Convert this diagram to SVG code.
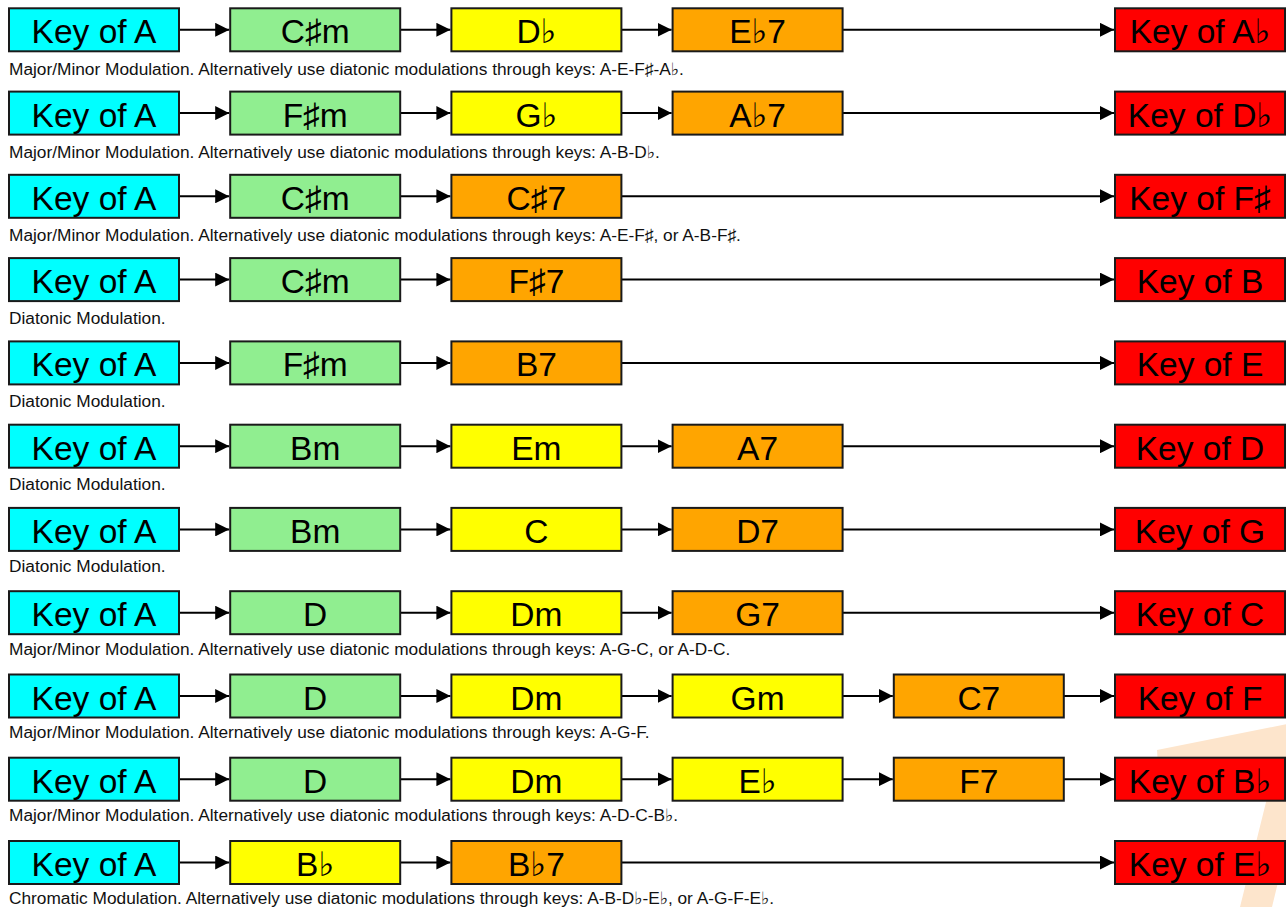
<svg xmlns="http://www.w3.org/2000/svg" width="1286" height="907" viewBox="0 0 1286 907">
<style>
.box{stroke:#1a1a1a;stroke-width:2}
.key{fill:#00ffff}.min{fill:#90ee90}.yel{fill:#ffff00}.dom{fill:#ffa500}.tgt{fill:#ff0000}
.lbl{font-family:"Liberation Sans",Arial,"DejaVu Sans",sans-serif;font-size:33.5px;text-anchor:middle;fill:#000}
.cap{font-family:"Liberation Sans",Arial,"DejaVu Sans",sans-serif;font-size:17.3px;fill:#111}
.con line{stroke:#000;stroke-width:2;marker-end:url(#ah)}
</style>
<defs>
<marker id="ah" markerUnits="userSpaceOnUse" markerWidth="14" markerHeight="14" refX="14" refY="7" orient="auto" viewBox="0 0 14 14"><path d="M0,0 L14,7 L0,14 Z" fill="#000"/></marker>
</defs>
<rect width="1286" height="907" fill="#fff"/>
<polygon id="watermark" points="1157,750 1292,723 1298,800 1272,907 1240,907 1272,778 1160,795" fill="#fde5cc"/>

<g id="connectors" class="con">
<line x1="179" y1="29.8" x2="229.2" y2="29.8"/><line x1="400.2" y1="29.8" x2="450.4" y2="29.8"/><line x1="621.4" y1="29.8" x2="671.6" y2="29.8"/><line x1="842.6" y1="29.8" x2="1114" y2="29.8"/>
<line x1="179" y1="113.1" x2="229.2" y2="113.1"/><line x1="400.2" y1="113.1" x2="450.4" y2="113.1"/><line x1="621.4" y1="113.1" x2="671.6" y2="113.1"/><line x1="842.6" y1="113.1" x2="1114" y2="113.1"/>
<line x1="179" y1="196.3" x2="229.2" y2="196.3"/><line x1="400.2" y1="196.3" x2="450.4" y2="196.3"/><line x1="621.4" y1="196.3" x2="1114" y2="196.3"/>
<line x1="179" y1="279.6" x2="229.2" y2="279.6"/><line x1="400.2" y1="279.6" x2="450.4" y2="279.6"/><line x1="621.4" y1="279.6" x2="1114" y2="279.6"/>
<line x1="179" y1="362.9" x2="229.2" y2="362.9"/><line x1="400.2" y1="362.9" x2="450.4" y2="362.9"/><line x1="621.4" y1="362.9" x2="1114" y2="362.9"/>
<line x1="179" y1="446.2" x2="229.2" y2="446.2"/><line x1="400.2" y1="446.2" x2="450.4" y2="446.2"/><line x1="621.4" y1="446.2" x2="671.6" y2="446.2"/><line x1="842.6" y1="446.2" x2="1114" y2="446.2"/>
<line x1="179" y1="529.4" x2="229.2" y2="529.4"/><line x1="400.2" y1="529.4" x2="450.4" y2="529.4"/><line x1="621.4" y1="529.4" x2="671.6" y2="529.4"/><line x1="842.6" y1="529.4" x2="1114" y2="529.4"/>
<line x1="179" y1="612.7" x2="229.2" y2="612.7"/><line x1="400.2" y1="612.7" x2="450.4" y2="612.7"/><line x1="621.4" y1="612.7" x2="671.6" y2="612.7"/><line x1="842.6" y1="612.7" x2="1114" y2="612.7"/>
<line x1="179" y1="696" x2="229.2" y2="696"/><line x1="400.2" y1="696" x2="450.4" y2="696"/><line x1="621.4" y1="696" x2="671.6" y2="696"/><line x1="842.6" y1="696" x2="892.8" y2="696"/><line x1="1063.8" y1="696" x2="1114" y2="696"/>
<line x1="179" y1="779.2" x2="229.2" y2="779.2"/><line x1="400.2" y1="779.2" x2="450.4" y2="779.2"/><line x1="621.4" y1="779.2" x2="671.6" y2="779.2"/><line x1="842.6" y1="779.2" x2="892.8" y2="779.2"/><line x1="1063.8" y1="779.2" x2="1114" y2="779.2"/>
<line x1="179" y1="862.5" x2="229.2" y2="862.5"/><line x1="400.2" y1="862.5" x2="450.4" y2="862.5"/><line x1="621.4" y1="862.5" x2="1114" y2="862.5"/>
</g>

<g id="r1-a"><rect class="box key" x="9" y="8.3" width="170" height="43"/><text class="lbl" x="94" y="43.3">Key of A</text></g>
<g id="r1-b"><rect class="box min" x="230.2" y="8.3" width="170" height="43"/><text class="lbl" x="315.2" y="43.3">C♯m</text></g>
<g id="r1-c"><rect class="box yel" x="451.4" y="8.3" width="170" height="43"/><text class="lbl" x="536.4" y="43.3">D♭</text></g>
<g id="r1-d"><rect class="box dom" x="672.6" y="8.3" width="170" height="43"/><text class="lbl" x="757.6" y="43.3">E♭7</text></g>
<g id="r1-t"><rect class="box tgt" x="1115" y="8.3" width="170" height="43"/><text class="lbl" x="1200" y="43.3">Key of A♭</text></g>
<text class="cap" x="9" y="75">Major/Minor Modulation. Alternatively use diatonic modulations through keys: A-E-F♯-A♭.</text>

<g id="r2-a"><rect class="box key" x="9" y="91.6" width="170" height="43"/><text class="lbl" x="94" y="126.6">Key of A</text></g>
<g id="r2-b"><rect class="box min" x="230.2" y="91.6" width="170" height="43"/><text class="lbl" x="315.2" y="126.6">F♯m</text></g>
<g id="r2-c"><rect class="box yel" x="451.4" y="91.6" width="170" height="43"/><text class="lbl" x="536.4" y="126.6">G♭</text></g>
<g id="r2-d"><rect class="box dom" x="672.6" y="91.6" width="170" height="43"/><text class="lbl" x="757.6" y="126.6">A♭7</text></g>
<g id="r2-t"><rect class="box tgt" x="1115" y="91.6" width="170" height="43"/><text class="lbl" x="1200" y="126.6">Key of D♭</text></g>
<text class="cap" x="9" y="157.9">Major/Minor Modulation. Alternatively use diatonic modulations through keys: A-B-D♭.</text>

<g id="r3-a"><rect class="box key" x="9" y="174.8" width="170" height="43"/><text class="lbl" x="94" y="209.8">Key of A</text></g>
<g id="r3-b"><rect class="box min" x="230.2" y="174.8" width="170" height="43"/><text class="lbl" x="315.2" y="209.8">C♯m</text></g>
<g id="r3-c"><rect class="box dom" x="451.4" y="174.8" width="170" height="43"/><text class="lbl" x="536.4" y="209.8">C♯7</text></g>
<g id="r3-t"><rect class="box tgt" x="1115" y="174.8" width="170" height="43"/><text class="lbl" x="1200" y="209.8">Key of F♯</text></g>
<text class="cap" x="9" y="240.8">Major/Minor Modulation. Alternatively use diatonic modulations through keys: A-E-F♯, or A-B-F♯.</text>

<g id="r4-a"><rect class="box key" x="9" y="258.1" width="170" height="43"/><text class="lbl" x="94" y="293.1">Key of A</text></g>
<g id="r4-b"><rect class="box min" x="230.2" y="258.1" width="170" height="43"/><text class="lbl" x="315.2" y="293.1">C♯m</text></g>
<g id="r4-c"><rect class="box dom" x="451.4" y="258.1" width="170" height="43"/><text class="lbl" x="536.4" y="293.1">F♯7</text></g>
<g id="r4-t"><rect class="box tgt" x="1115" y="258.1" width="170" height="43"/><text class="lbl" x="1200" y="293.1">Key of B</text></g>
<text class="cap" x="9" y="323.7">Diatonic Modulation.</text>

<g id="r5-a"><rect class="box key" x="9" y="341.4" width="170" height="43"/><text class="lbl" x="94" y="376.4">Key of A</text></g>
<g id="r5-b"><rect class="box min" x="230.2" y="341.4" width="170" height="43"/><text class="lbl" x="315.2" y="376.4">F♯m</text></g>
<g id="r5-c"><rect class="box dom" x="451.4" y="341.4" width="170" height="43"/><text class="lbl" x="536.4" y="376.4">B7</text></g>
<g id="r5-t"><rect class="box tgt" x="1115" y="341.4" width="170" height="43"/><text class="lbl" x="1200" y="376.4">Key of E</text></g>
<text class="cap" x="9" y="406.6">Diatonic Modulation.</text>

<g id="r6-a"><rect class="box key" x="9" y="424.7" width="170" height="43"/><text class="lbl" x="94" y="459.7">Key of A</text></g>
<g id="r6-b"><rect class="box min" x="230.2" y="424.7" width="170" height="43"/><text class="lbl" x="315.2" y="459.7">Bm</text></g>
<g id="r6-c"><rect class="box yel" x="451.4" y="424.7" width="170" height="43"/><text class="lbl" x="536.4" y="459.7">Em</text></g>
<g id="r6-d"><rect class="box dom" x="672.6" y="424.7" width="170" height="43"/><text class="lbl" x="757.6" y="459.7">A7</text></g>
<g id="r6-t"><rect class="box tgt" x="1115" y="424.7" width="170" height="43"/><text class="lbl" x="1200" y="459.7">Key of D</text></g>
<text class="cap" x="9" y="489.5">Diatonic Modulation.</text>

<g id="r7-a"><rect class="box key" x="9" y="507.9" width="170" height="43"/><text class="lbl" x="94" y="542.9">Key of A</text></g>
<g id="r7-b"><rect class="box min" x="230.2" y="507.9" width="170" height="43"/><text class="lbl" x="315.2" y="542.9">Bm</text></g>
<g id="r7-c"><rect class="box yel" x="451.4" y="507.9" width="170" height="43"/><text class="lbl" x="536.4" y="542.9">C</text></g>
<g id="r7-d"><rect class="box dom" x="672.6" y="507.9" width="170" height="43"/><text class="lbl" x="757.6" y="542.9">D7</text></g>
<g id="r7-t"><rect class="box tgt" x="1115" y="507.9" width="170" height="43"/><text class="lbl" x="1200" y="542.9">Key of G</text></g>
<text class="cap" x="9" y="572.4">Diatonic Modulation.</text>

<g id="r8-a"><rect class="box key" x="9" y="591.2" width="170" height="43"/><text class="lbl" x="94" y="626.2">Key of A</text></g>
<g id="r8-b"><rect class="box min" x="230.2" y="591.2" width="170" height="43"/><text class="lbl" x="315.2" y="626.2">D</text></g>
<g id="r8-c"><rect class="box yel" x="451.4" y="591.2" width="170" height="43"/><text class="lbl" x="536.4" y="626.2">Dm</text></g>
<g id="r8-d"><rect class="box dom" x="672.6" y="591.2" width="170" height="43"/><text class="lbl" x="757.6" y="626.2">G7</text></g>
<g id="r8-t"><rect class="box tgt" x="1115" y="591.2" width="170" height="43"/><text class="lbl" x="1200" y="626.2">Key of C</text></g>
<text class="cap" x="9" y="655.3">Major/Minor Modulation. Alternatively use diatonic modulations through keys: A-G-C, or A-D-C.</text>

<g id="r9-a"><rect class="box key" x="9" y="674.5" width="170" height="43"/><text class="lbl" x="94" y="709.5">Key of A</text></g>
<g id="r9-b"><rect class="box min" x="230.2" y="674.5" width="170" height="43"/><text class="lbl" x="315.2" y="709.5">D</text></g>
<g id="r9-c"><rect class="box yel" x="451.4" y="674.5" width="170" height="43"/><text class="lbl" x="536.4" y="709.5">Dm</text></g>
<g id="r9-d"><rect class="box yel" x="672.6" y="674.5" width="170" height="43"/><text class="lbl" x="757.6" y="709.5">Gm</text></g>
<g id="r9-e"><rect class="box dom" x="893.8" y="674.5" width="170" height="43"/><text class="lbl" x="978.8" y="709.5">C7</text></g>
<g id="r9-t"><rect class="box tgt" x="1115" y="674.5" width="170" height="43"/><text class="lbl" x="1200" y="709.5">Key of F</text></g>
<text class="cap" x="9" y="738.2">Major/Minor Modulation. Alternatively use diatonic modulations through keys: A-G-F.</text>

<g id="r10-a"><rect class="box key" x="9" y="757.7" width="170" height="43"/><text class="lbl" x="94" y="792.7">Key of A</text></g>
<g id="r10-b"><rect class="box min" x="230.2" y="757.7" width="170" height="43"/><text class="lbl" x="315.2" y="792.7">D</text></g>
<g id="r10-c"><rect class="box yel" x="451.4" y="757.7" width="170" height="43"/><text class="lbl" x="536.4" y="792.7">Dm</text></g>
<g id="r10-d"><rect class="box yel" x="672.6" y="757.7" width="170" height="43"/><text class="lbl" x="757.6" y="792.7">E♭</text></g>
<g id="r10-e"><rect class="box dom" x="893.8" y="757.7" width="170" height="43"/><text class="lbl" x="978.8" y="792.7">F7</text></g>
<g id="r10-t"><rect class="box tgt" x="1115" y="757.7" width="170" height="43"/><text class="lbl" x="1200" y="792.7">Key of B♭</text></g>
<text class="cap" x="9" y="821.1">Major/Minor Modulation. Alternatively use diatonic modulations through keys: A-D-C-B♭.</text>

<g id="r11-a"><rect class="box key" x="9" y="841" width="170" height="43"/><text class="lbl" x="94" y="876">Key of A</text></g>
<g id="r11-b"><rect class="box yel" x="230.2" y="841" width="170" height="43"/><text class="lbl" x="315.2" y="876">B♭</text></g>
<g id="r11-c"><rect class="box dom" x="451.4" y="841" width="170" height="43"/><text class="lbl" x="536.4" y="876">B♭7</text></g>
<g id="r11-t"><rect class="box tgt" x="1115" y="841" width="170" height="43"/><text class="lbl" x="1200" y="876">Key of E♭</text></g>
<text class="cap" x="9" y="903.5">Chromatic Modulation. Alternatively use diatonic modulations through keys: A-B-D♭-E♭, or A-G-F-E♭.</text>
</svg>
